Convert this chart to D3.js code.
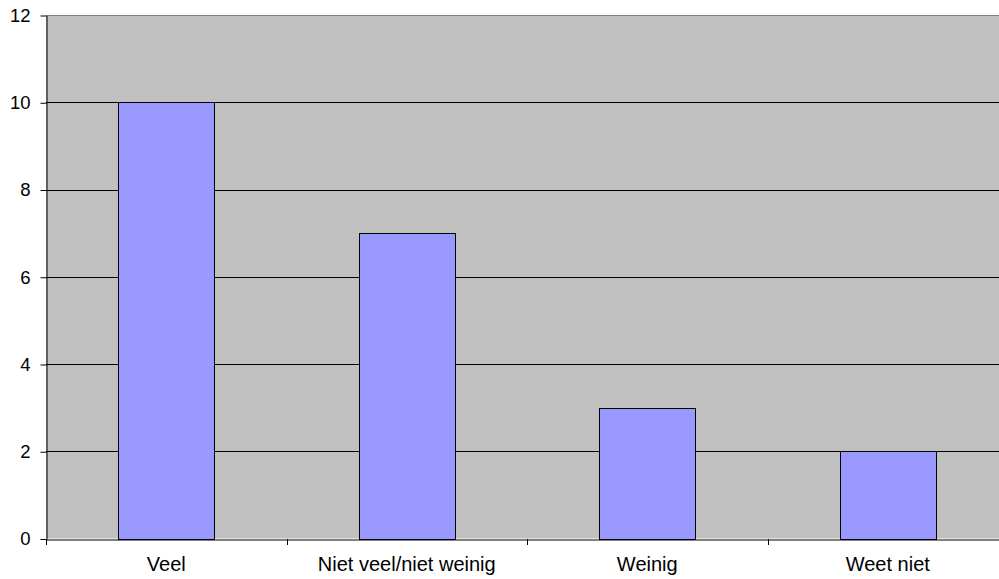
<!DOCTYPE html>
<html>
<head>
<meta charset="utf-8">
<script src="https://cdn.jsdelivr.net/npm/d3@7"></script>
<style>
  html, body { margin: 0; padding: 0; background: #fff; }
  svg { display: block; }
  text { font-family: "Liberation Sans", Arial, sans-serif; fill: #000; }
</style>
</head>
<body>
<svg id="chart" width="999" height="579"></svg>
<script>
const categories = ["Veel", "Niet veel/niet weinig", "Weinig", "Weet niet"];
const values = [10, 7, 3, 2];
const yTicks = [0, 2, 4, 6, 8, 10, 12];

const svg = d3.select("#chart");
const plotLeft = 46, plotTop = 15, plotBottom = 538.5, bandW = 240.5;
const plotRight = plotLeft + bandW * categories.length;
const fontFamily = '"Liberation Sans", Arial, sans-serif';

const x = d3.scaleBand().domain(categories).range([plotLeft, plotRight]).paddingInner(0).paddingOuter(0);
const y = d3.scaleLinear().domain([0, 12]).range([plotBottom, plotTop]);

// plot background
svg.append("rect")
  .attr("x", plotLeft).attr("y", plotTop)
  .attr("width", plotRight - plotLeft).attr("height", plotBottom - plotTop)
  .attr("fill", "#c0c0c0");

// horizontal gridlines
svg.append("g").selectAll("line")
  .data(yTicks.filter(d => d > 0))
  .join("line")
  .attr("x1", plotLeft).attr("x2", plotRight)
  .attr("y1", d => Math.round(y(d)) + 0.5).attr("y2", d => Math.round(y(d)) + 0.5)
  .attr("stroke", d => d === 12 ? "#808080" : "#000")
  .attr("stroke-width", 1);

// bars
const barW = x.bandwidth() * 0.4;
svg.append("g").selectAll("rect")
  .data(values)
  .join("rect")
  .attr("x", (d, i) => Math.round(x(categories[i]) + (x.bandwidth() - barW) / 2) + 0.5)
  .attr("y", d => Math.round(y(d)) + 0.5)
  .attr("width", Math.round(barW))
  .attr("height", d => Math.round(y(0)) - Math.round(y(d)))
  .attr("fill", "#9999ff")
  .attr("stroke", "#000")
  .attr("stroke-width", 1);

// y axis
const yAxis = d3.axisLeft(y).tickValues(yTicks).tickSize(6).tickPadding(10).tickSizeOuter(0);
const gy = svg.append("g").attr("transform", `translate(${plotLeft + 0.5},0.5)`).call(yAxis);
gy.select(".domain").attr("stroke", "#000");
gy.selectAll(".tick line").attr("stroke", "#000");
gy.selectAll("text").style("font-size", "18.5px").attr("fill", "#000")
  .style("font-family", fontFamily);

// x axis
const xAxis = d3.axisBottom(x).tickSize(0).tickPadding(17).tickSizeOuter(0);
const gx = svg.append("g").attr("transform", `translate(0,${Math.round(plotBottom) + 0.5})`).call(xAxis);
gx.select(".domain").attr("stroke", "#000");
gx.selectAll("text").style("font-size", "20px").attr("fill", "#000")
  .style("font-family", fontFamily);

// category boundary tick marks
svg.append("g").selectAll("line")
  .data(categories)
  .join("line")
  .attr("x1", d => Math.round(x(d)) + 0.5).attr("x2", d => Math.round(x(d)) + 0.5)
  .attr("y1", Math.round(plotBottom)).attr("y2", Math.round(plotBottom) + 6)
  .attr("stroke", "#000");
</script>
</body>
</html>
